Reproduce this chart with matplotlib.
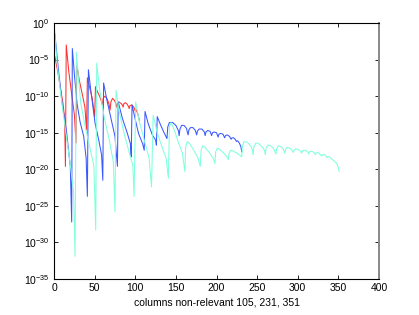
import numpy as np
import matplotlib
matplotlib.use("Agg")
import matplotlib.pyplot as plt
from matplotlib.ticker import FixedLocator, LogFormatterSciNotation

plt.rcParams['font.family'] = ['Liberation Sans', 'DejaVu Sans']

# vertices: column index and log10 of the value
red_x = [1, 4, 8, 11, 13, 14, 15, 18, 22, 25, 27, 28, 31, 34.5, 38, 40,
         41, 44, 47, 50, 51, 53, 56, 58, 59.5, 60.5, 62.5, 65, 67.5, 69,
         70, 72, 74.5, 76, 77, 78, 80, 82.5, 84, 85, 86, 88, 90, 91.5, 92.5,
         93.5, 95.5, 97.5, 99, 99.7, 100.5, 102, 103.5, 105]
red_log = [-4.6, -6.3, -9, -11, -13, -19.6, -3, -6.5, -10, -12.5, -16.4,
           -5.7, -7.8, -9.6, -11.5, -14.6, -7.5, -8.9, -10.3, -12.8, -8.7,
           -9.3, -10.0, -10.6, -11.2, -10.3, -10.0, -10.3, -11.0, -11.9,
           -10.8, -10.3, -10.6, -11.0, -11.5, -11.0, -10.8, -11.0, -11.2,
           -11.5, -11.0, -10.9, -11.1, -11.4, -11.7, -11.3, -11.2, -11.4,
           -11.7, -12.0, -11.8, -12.1, -12.6, -13.3]

blue_x = [1, 5, 10, 15, 20, 21.7, 22.5, 25, 28.3, 32, 36.5, 39.5, 41, 42.3,
          45, 50.5, 55, 58.5, 60, 61, 65, 70, 75, 78, 79, 84, 90, 94, 95,
          96, 100, 104, 109, 111, 112, 116, 121, 125, 126, 127, 131, 135,
          139, 140, 142, 146, 150, 153, 154, 155, 157, 160, 163, 165, 166,
          168, 171, 174, 175.5, 176.5, 178.5, 182, 185, 186, 187, 189, 192,
          194, 195, 197, 200, 202, 203, 205, 208, 210, 211, 213, 216, 218,
          219, 221, 223, 224.5, 226, 228, 230, 231]
blue_log = [-1.5, -6, -11, -14.5, -19.6, -27.2, -3.5, -7, -11, -13.5, -15.5,
            -18.5, -23.7, -6.4, -9, -13.7, -16, -18, -21.5, -8.2, -10.5, -13,
            -15.5, -19.6, -10.8, -13, -15, -16.5, -18.3, -11.2, -13.2, -15.1,
            -16.5, -17.4, -12.1, -13.8, -15.3, -16, -16.7, -12.8, -13.9,
            -14.9, -15.8, -14.2, -13.6, -13.6, -14.0, -14.7, -15.4, -14.5,
            -14.0, -14.0, -14.4, -15.3, -14.6, -14.3, -14.3, -14.7, -15.3,
            -14.8, -14.5, -14.5, -14.9, -15.4, -14.9, -14.7, -14.8, -15.4,
            -15.0, -14.9, -15.0, -15.6, -15.2, -15.1, -15.2, -15.7, -15.4,
            -15.3, -15.5, -15.9, -15.7, -15.7, -15.9, -16.2, -16.1, -16.4,
            -16.9, -17.6]

cyan_x = [0, 3.7, 8, 14, 19, 24, 25.8, 27.5, 30, 33, 38, 43, 49, 51.3, 52.5,
          56, 62, 68, 73, 75, 76.3, 80, 86, 92, 97, 98.5, 100.5, 105, 111,
          117, 120, 122, 127, 133, 138, 140.7, 142, 144, 148, 153, 158, 161,
          162, 164, 167, 172, 177, 180, 181, 183, 186, 191, 196, 198, 199,
          201, 204, 209, 213, 214.5, 215.5, 217.5, 220.5, 225, 229, 231,
          232, 234, 238, 242, 244, 245, 246, 248.5, 252, 256, 259, 260, 261,
          263.5, 267, 270.5, 273, 274, 276, 279.5, 282.5, 284, 285, 287,
          290, 293, 294.5, 295.5, 297.5, 300.5, 303.5, 304.8, 305.8, 307.5,
          310, 312.5, 313.5, 314.5, 316, 318.5, 320.5, 321.5, 322.5, 324,
          326, 328, 329.4, 330.5, 332, 334, 336, 337, 339, 341, 343, 345,
          347, 349, 350, 351]
cyan_log = [0, -5.5, -9.5, -14.6, -18.5, -23, -31.9, -4, -7.5, -11, -14,
            -16.5, -19.5, -28.3, -5.5, -9, -13, -16, -19, -25.8, -9.2, -12,
            -15, -17.5, -19.5, -23.7, -10.8, -13.5, -16, -18.5, -22.4, -12.6,
            -15, -17, -18.5, -21.2, -14.2, -13.6, -14.6, -16.3, -17.8, -20.3,
            -17.0, -16.2, -16.5, -17.4, -18.4, -19.6, -17.4, -16.8, -17.0,
            -17.7, -18.5, -19.2, -17.6, -17.1, -17.3, -17.8, -18.3, -18.7,
            -17.8, -17.4, -17.5, -17.8, -18.1, -18.3, -16.8, -16.2, -16.3,
            -16.8, -17.3, -18, -16.9, -16.4, -16.5, -16.9, -17.4, -18, -17.1,
            -16.7, -16.8, -17.2, -17.9, -17.2, -16.8, -16.9, -17.3, -17.8,
            -17.3, -17.0, -17.1, -17.4, -17.7, -17.4, -17.2, -17.3, -17.5,
            -17.8, -17.5, -17.35, -17.45, -17.65, -17.9, -17.6, -17.5, -17.6,
            -17.8, -18.0, -17.8, -17.7, -17.8, -18.0, -18.2, -18.0, -17.95,
            -18.1, -18.4, -18.25, -18.3, -18.5, -18.7, -18.9, -19.1, -19.4,
            -19.8, -20.3]

fig = plt.figure(figsize=(4.19, 3.15), dpi=100)
ax = fig.add_axes([0.129, 0.1143, 0.7755, 0.8127])

ax.semilogy(red_x, 10.0 ** np.array(red_log), color='#ff3030', lw=0.75)
ax.semilogy(blue_x, 10.0 ** np.array(blue_log), color='#3a58ff', lw=0.75)
ax.semilogy(cyan_x, 10.0 ** np.array(cyan_log), color='#80ffdc', lw=0.75)

ax.set_xlim(0, 400)
ax.set_ylim(1e-35, 1)
ax.set_xticks([0, 50, 100, 150, 200, 250, 300, 350, 400])
ax.yaxis.set_major_locator(FixedLocator([10.0 ** -k for k in range(0, 36, 5)]))
ax.yaxis.set_major_formatter(LogFormatterSciNotation())
ax.yaxis.set_minor_locator(FixedLocator([]))
ax.tick_params(direction='in', top=True, right=True, length=3, width=0.6,
               labelsize=7.5, pad=3)
for s in ax.spines.values():
    s.set_linewidth(0.8)
ax.spines['right'].set_color('#888888')
ax.spines['right'].set_linewidth(1.4)
ax.set_xlabel('columns non-relevant 105, 231, 351', fontsize=7.5, labelpad=3)

fig.savefig('out.png', dpi=100)
